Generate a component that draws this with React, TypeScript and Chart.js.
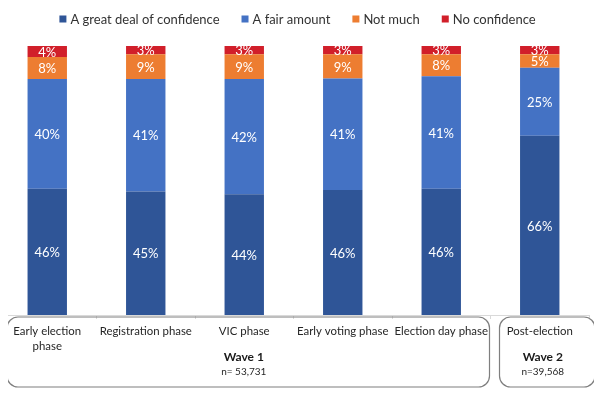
import React, { useEffect, useRef } from "react";
import { Chart, registerables } from "chart.js";

Chart.register(...registerables);

// ---- data ----
const categories: (string | string[])[] = [
  ["Early election", "phase"],
  "Registration phase",
  "VIC phase",
  "Early voting phase",
  "Election day phase",
  "Post-election",
];
const seriesNames = ["A great deal of confidence", "A fair amount", "Not much", "No confidence"];
const greatDeal = [46, 45, 44, 46, 46, 66];
const fairAmount = [40, 41, 42, 41, 41, 25];
const notMuch = [8, 9, 9, 9, 8, 5];
const noConfidence = [4, 3, 3, 3, 3, 3];
const seriesColors = ["#2F5597", "#4472C4", "#ED7D31", "#D11F2A"];

const waveTitles = ["Wave 1", "Wave 2"];
const waveSizes = ["n= 53,731", "n=39,568"];
const waveFirst = [0, 5];
const waveLast = [4, 5];

const FONT = "Lato, 'Liberation Sans', sans-serif";

const allSeries = [greatDeal, fairAmount, notMuch, noConfidence];
const totals = categories.map((_, i) => allSeries.reduce((s, arr) => s + arr[i], 0));

const overlayPlugin = {
  id: "overlay",
  afterDatasetsDraw(chart: any) {
    const ctx = chart.ctx;
    ctx.save();
    // data labels
    ctx.fillStyle = "#FFFFFF";
    ctx.font = `13px ${FONT}`;
    ctx.textAlign = "center";
    ctx.textBaseline = "middle";
    chart.data.datasets.forEach((ds: any, di: number) => {
      const meta = chart.getDatasetMeta(di);
      meta.data.forEach((el: any, i: number) => {
        const p = el.getProps(["x", "y", "base"], true);
        ctx.fillText(`${ds.rawValues[i]}%`, p.x, (p.y + p.base) / 2 + 1);
      });
    });
    ctx.restore();
  },
  afterDraw(chart: any) {
    const ctx = chart.ctx;
    const xs = chart.scales.x;
    ctx.save();
    // legend
    ctx.font = `13px ${FONT}`;
    ctx.textBaseline = "middle";
    ctx.textAlign = "left";
    const box = 7;
    const gapBox = 4;
    const gapItem = 22;
    const widths = seriesNames.map((n) => ctx.measureText(n).width);
    const total = widths.reduce((s, w) => s + w + box + gapBox, 0) + gapItem * (seriesNames.length - 1);
    let x = 299.5 - total / 2;
    const ly = 19;
    seriesNames.forEach((n, i) => {
      ctx.fillStyle = seriesColors[i];
      ctx.fillRect(x, ly - box / 2, box, box);
      ctx.fillStyle = "#333333";
      ctx.fillText(n, x + box + gapBox, ly + 1);
      x += box + gapBox + widths[i] + gapItem;
    });

    // wave boxes
    const half = (xs.getPixelForValue(1) - xs.getPixelForValue(0)) / 2;
    waveTitles.forEach((t, w) => {
      const left = xs.getPixelForValue(waveFirst[w]) - half + 9;
      const right = xs.getPixelForValue(waveLast[w]) + half + (w === waveTitles.length - 1 ? 6 : -1);
      const top = 317;
      const bottom = 387;
      const r = 11;
      ctx.beginPath();
      ctx.moveTo(left + r, top);
      ctx.arcTo(right, top, right, bottom, r);
      ctx.arcTo(right, bottom, left, bottom, r);
      ctx.arcTo(left, bottom, left, top, r);
      ctx.arcTo(left, top, right, top, r);
      ctx.closePath();
      ctx.strokeStyle = "#7F7F7F";
      ctx.lineWidth = 1.2;
      ctx.stroke();
      const cx = (left + right) / 2 - 4.5;
      ctx.textAlign = "center";
      ctx.fillStyle = "#1A1A1A";
      ctx.font = `bold 12px ${FONT}`;
      ctx.fillText(t, cx, 357);
      ctx.font = `10px ${FONT}`;
      ctx.fillStyle = "#262626";
      ctx.fillText(waveSizes[w], cx, 372);
    });
    ctx.restore();
  },
};

export default function App() {
  const ref = useRef<HTMLCanvasElement | null>(null);
  useEffect(() => {
    if (!ref.current) return;
    const chart = new Chart(ref.current, {
      type: "bar",
      data: {
        labels: categories as any,
        datasets: allSeries.map((arr, si) => ({
          label: seriesNames[si],
          data: arr.map((v, i) => (v / totals[i]) * 100),
          rawValues: arr,
          backgroundColor: seriesColors[si],
          borderWidth: 0,
          categoryPercentage: 0.8,
          barPercentage: 0.5,
        })) as any,
      },
      options: {
        responsive: false,
        animation: false,
        devicePixelRatio: 1,
        layout: { padding: { left: 0, right: 13, top: 46, bottom: 39 } },
        plugins: { legend: { display: false }, tooltip: { enabled: false } },
        scales: {
          x: {
            stacked: true,
            offset: true,
            grid: {
              display: true,
              drawOnChartArea: false,
              drawTicks: true,
              tickLength: 4,
              color: "#D9D9D9",
              offset: true,
            },
            border: { display: true, color: "#D9D9D9" },
            ticks: {
              autoSkip: false,
              maxRotation: 0,
              padding: 5,
              color: "#262626",
              font: { family: FONT, size: 11.4, lineHeight: 15 / 11.4 },
            },
          },
          y: { stacked: true, min: 0, max: 100, display: false },
        },
      },
      plugins: [overlayPlugin],
    });
    return () => chart.destroy();
  }, []);
  return (
    <div style={{ position: "relative", width: 602, height: 398, margin: -8, overflow: "hidden" }}>
      <canvas
        ref={ref}
        width={604}
        height={398}
        style={{ position: "absolute", left: -2, top: 0, width: 604, height: 398, display: "block" }}
      />
    </div>
  );
}
